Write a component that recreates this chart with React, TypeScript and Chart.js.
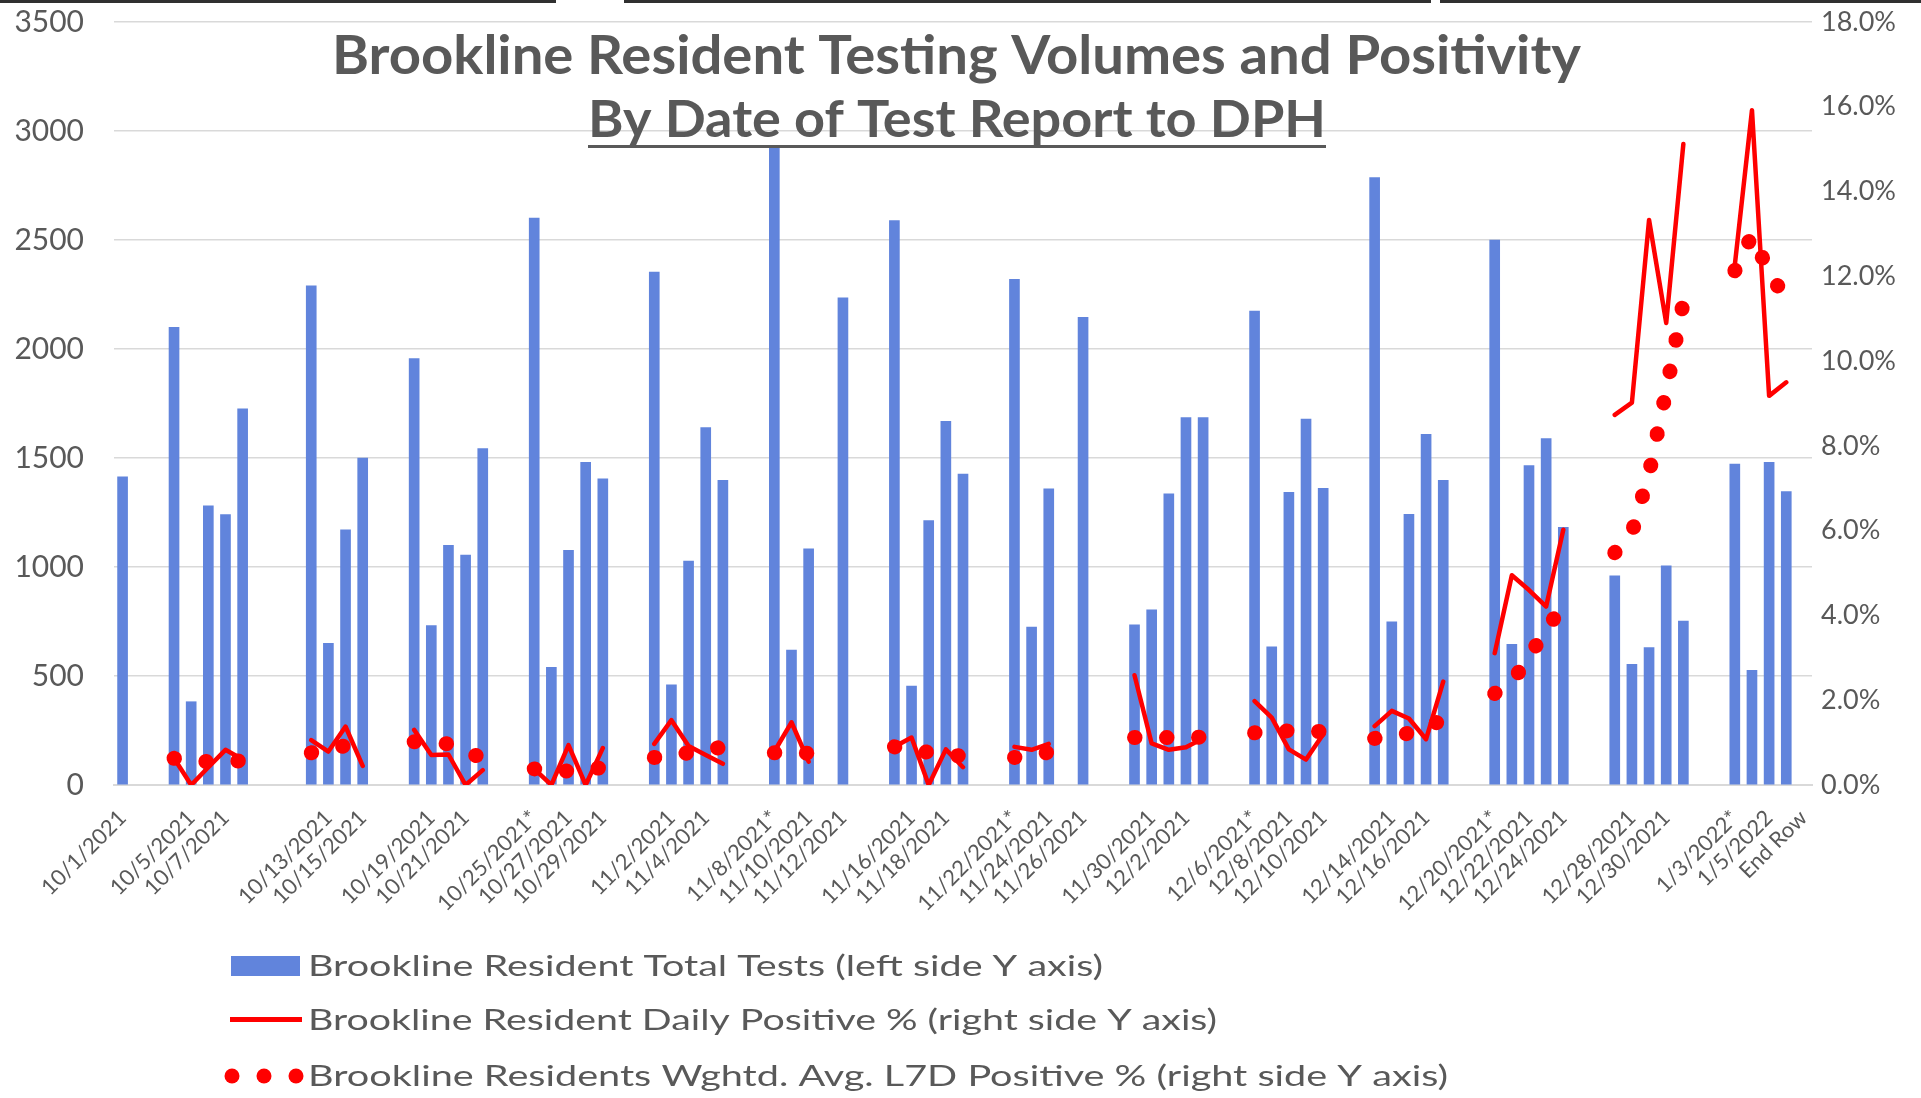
import React, { useEffect, useRef } from "react";
import { Chart, registerables } from "chart.js";

Chart.register(...registerables);

const n = null;

// One category per calendar day, 10/1/2021 .. 1/6/2022, then "End Row".
// Weekend / holiday days are blank categories.
const categories: string[] = [
  "10/1/2021", "", "", "10/4/2021*", "10/5/2021", "10/6/2021", "10/7/2021", "10/8/2021", "", "",
  "", "10/12/2021", "10/13/2021", "10/14/2021", "10/15/2021", "", "", "10/18/2021*", "10/19/2021", "10/20/2021",
  "10/21/2021", "10/22/2021", "", "", "10/25/2021*", "10/26/2021", "10/27/2021", "10/28/2021", "10/29/2021", "",
  "", "11/1/2021*", "11/2/2021", "11/3/2021", "11/4/2021", "11/5/2021", "", "", "11/8/2021*", "11/9/2021",
  "11/10/2021", "", "11/12/2021", "", "", "11/15/2021*", "11/16/2021", "11/17/2021", "11/18/2021", "11/19/2021",
  "", "", "11/22/2021*", "11/23/2021", "11/24/2021", "", "11/26/2021", "", "", "11/29/2021*",
  "11/30/2021", "12/1/2021", "12/2/2021", "12/3/2021", "", "", "12/6/2021*", "12/7/2021", "12/8/2021", "12/9/2021",
  "12/10/2021", "", "", "12/13/2021*", "12/14/2021", "12/15/2021", "12/16/2021", "12/17/2021", "", "",
  "12/20/2021*", "12/21/2021", "12/22/2021", "12/23/2021", "12/24/2021", "", "", "12/27/2021*", "12/28/2021", "12/29/2021",
  "12/30/2021", "12/31/2021", "", "", "1/3/2022*", "1/4/2022", "1/5/2022", "1/6/2022", "End Row",
];

const totalTests: (number | null)[] = [
  1414, n, n, 2099, 382, 1281, 1240, 1725, n, n,
  n, 2290, 650, 1171, 1500, n, n, 1956, 731, 1099,
  1055, 1543, n, n, 2601, 540, 1077, 1480, 1404, n,
  n, 2353, 459, 1027, 1640, 1398, n, n, 2927, 619,
  1083, n, 2235, n, n, 2589, 454, 1213, 1668, 1426,
  n, n, 2320, 724, 1359, n, 2145, n, n, 735,
  803, 1336, 1685, 1685, n, n, 2174, 634, 1343, 1679,
  1361, n, n, 2786, 749, 1242, 1609, 1398, n, n,
  2500, 645, 1465, 1589, 1182, n, n, 959, 554, 630,
  1005, 752, n, n, 1472, 526, 1480, 1346, n,
];

const dailyPositive: (number | null)[] = [
  n, n, n, 0.63, 0.0, 0.42, 0.83, 0.6, n, n,
  n, 1.06, 0.79, 1.38, 0.45, n, n, 1.3, 0.71, 0.72,
  0.0, 0.35, n, n, 0.38, 0.0, 0.94, 0.0, 0.87, n,
  n, 0.97, 1.53, 0.92, 0.71, 0.5, n, n, 0.79, 1.48,
  0.55, n, n, n, n, 0.9, 1.12, 0.0, 0.84, 0.42,
  n, n, 0.9, 0.83, 0.97, n, n, n, n, 2.59,
  0.98, 0.83, 0.89, 1.1, n, n, 1.98, 1.59, 0.84, 0.6,
  1.2, n, n, 1.39, 1.75, 1.57, 1.08, 2.44, n, n,
  3.11, 4.95, 4.6, 4.21, 6.02, n, n, 8.73, 9.02, 13.33,
  10.9, 15.12, n, n, 12.27, 15.92, 9.18, 9.5, n,
];

const weightedAvgL7D: (number | null)[] = [
  n, n, n, 0.63, 0.58, 0.55, 0.56, 0.57, n, n,
  n, 0.76, 0.83, 0.93, 0.95, n, n, 1.02, 1.0, 0.97,
  0.78, 0.64, n, n, 0.38, 0.35, 0.33, 0.37, 0.41, n,
  n, 0.65, 0.69, 0.76, 0.84, 0.89, n, n, 0.76, 0.76,
  0.75, n, n, n, n, 0.9, 0.83, 0.77, 0.72, 0.68,
  n, n, 0.65, 0.7, 0.77, n, n, n, n, 1.12,
  1.11, 1.12, 1.12, 1.13, n, n, 1.23, 1.25, 1.28, 1.27,
  1.26, n, n, 1.1, 1.16, 1.22, 1.35, 1.55, n, n,
  2.16, 2.42, 3.03, 3.66, 4.25, n, n, 5.48, 5.95, 7.35,
  9.3, 11.4, n, n, 12.13, 12.97, 12.1, 11.45, n,
];

const leftAxis = { min: 0, max: 3500, step: 500 };
const rightAxis = { min: 0, max: 18, step: 2 };

const seriesNames = [
  "Brookline Resident Total Tests (left side Y axis)",
  "Brookline Resident Daily Positive % (right side Y axis)",
  "Brookline Residents Wghtd. Avg. L7D Positive % (right side Y axis)",
];
const titleLines = [
  "Brookline Resident Testing Volumes and Positivity",
  "By Date of Test Report to DPH",
];

const BLUE = "#6184DC";
const RED = "#FF0000";
const TEXT = "#595959";
const GRID = "#d9d9d9";
const FONT = "Lato, 'Open Sans', sans-serif";

function drawFitted(
  ctx: CanvasRenderingContext2D,
  text: string,
  left: number,
  baseline: number,
  width: number,
  capH: number,
  weight: string
) {
  const size = capH / 0.7165;
  ctx.font = `${weight} ${size}px ${FONT}`;
  const w = ctx.measureText(text).width;
  const sx = width / w;
  ctx.save();
  ctx.translate(left, baseline);
  ctx.scale(sx, 1);
  ctx.textAlign = "left";
  ctx.textBaseline = "alphabetic";
  ctx.fillStyle = TEXT;
  ctx.fillText(text, 0, 0);
  ctx.restore();
}

const overlayPlugin = {
  id: "overlay",
  afterDraw(chart: any) {
    const ctx: CanvasRenderingContext2D = chart.ctx;
    ctx.save();
    // dark strip along the very top
    ctx.fillStyle = "#303030";
    ctx.fillRect(0, 0, 556, 3);
    ctx.fillRect(624, 0, 807, 3);
    ctx.fillRect(1440, 0, 481, 3);

    // title
    drawFitted(ctx, titleLines[0], 332, 74, 1249, 38, "bold");
    drawFitted(ctx, titleLines[1], 588, 137, 738, 37, "bold");
    ctx.fillStyle = TEXT;
    ctx.fillRect(588, 145, 738, 3);

    // legend
    ctx.fillStyle = BLUE;
    ctx.fillRect(231, 956, 69, 20);
    drawFitted(ctx, seriesNames[0], 308, 976, 795, 20.5, "normal");

    ctx.strokeStyle = RED;
    ctx.lineWidth = 5;
    ctx.lineCap = "butt";
    ctx.beginPath();
    ctx.moveTo(230, 1019.5);
    ctx.lineTo(302, 1019.5);
    ctx.stroke();
    drawFitted(ctx, seriesNames[1], 308, 1030, 909, 20.5, "normal");

    ctx.fillStyle = RED;
    [232, 264, 296].forEach((x) => {
      ctx.beginPath();
      ctx.arc(x, 1076, 7.5, 0, Math.PI * 2);
      ctx.fill();
    });
    drawFitted(ctx, seriesNames[2], 308, 1086, 1140, 20.5, "normal");
    ctx.restore();
  },
};

export default function App() {
  const ref = useRef<HTMLCanvasElement | null>(null);

  useEffect(() => {
    document.body.style.margin = "0";
    document.body.style.overflow = "hidden";
    const canvas = ref.current;
    if (!canvas) return;
    const chart = new Chart(canvas, {
      type: "bar",
      data: {
        labels: categories,
        datasets: [
          {
            type: "line",
            label: seriesNames[2],
            data: weightedAvgL7D,
            yAxisID: "y1",
            borderColor: RED,
            backgroundColor: RED,
            borderWidth: 15,
            borderDash: [0.5, 31.5],
            borderCapStyle: "round",
            pointRadius: 0,
            pointHoverRadius: 0,
            fill: false,
            spanGaps: false,
            tension: 0,
            order: 1,
          } as any,
          {
            type: "line",
            label: seriesNames[1],
            data: dailyPositive,
            yAxisID: "y1",
            borderColor: RED,
            backgroundColor: RED,
            borderWidth: 4.5,
            borderCapStyle: "round",
            borderJoinStyle: "round",
            pointRadius: 0,
            pointHoverRadius: 0,
            fill: false,
            spanGaps: false,
            tension: 0,
            order: 2,
          } as any,
          {
            type: "bar",
            label: seriesNames[0],
            data: totalTests,
            yAxisID: "y",
            backgroundColor: BLUE,
            barThickness: 10,
            order: 3,
          } as any,
        ],
      },
      options: {
        responsive: false,
        animation: false,
        events: [],
        layout: { padding: { top: 22, left: 0, right: 0, bottom: 0 } },
        plugins: {
          legend: { display: false },
          title: { display: false },
          tooltip: { enabled: false },
        },
        scales: {
          x: {
            type: "category",
            offset: true,
            grid: { display: false, drawTicks: false },
            border: { display: true, color: GRID, width: 2 },
            ticks: {
              autoSkip: false,
              minRotation: 45,
              maxRotation: 45,
              padding: 20,
              color: TEXT,
              font: { family: FONT, size: 22 },
              callback: (_v: any, i: number) => (i % 2 === 0 ? categories[i] : ""),
            },
            afterFit: (s: any) => {
              s.height = 313;
              s.paddingLeft = 0;
              s.paddingRight = 0;
            },
          },
          y: {
            type: "linear",
            position: "left",
            min: leftAxis.min,
            max: leftAxis.max,
            ticks: {
              stepSize: leftAxis.step,
              padding: 30,
              color: TEXT,
              font: { family: FONT, size: 30 },
              callback: (v: any) => String(v),
            },
            grid: { color: GRID, lineWidth: 1.5, drawTicks: false },
            border: { display: false },
            afterFit: (s: any) => {
              s.width = 114;
              s.paddingTop = 0;
              s.paddingBottom = 0;
            },
          },
          y1: {
            type: "linear",
            position: "right",
            min: rightAxis.min,
            max: rightAxis.max,
            ticks: {
              stepSize: rightAxis.step,
              padding: 9,
              color: TEXT,
              font: { family: FONT, size: 27 },
              callback: (v: any) => Number(v).toFixed(1) + "%",
            },
            grid: { display: false, drawTicks: false },
            border: { display: false },
            afterFit: (s: any) => {
              s.width = 109;
              s.paddingTop = 0;
              s.paddingBottom = 0;
            },
          },
        },
      } as any,
      plugins: [overlayPlugin],
    });
    return () => chart.destroy();
  }, []);

  return (
    <canvas
      ref={ref}
      width={1921}
      height={1098}
      style={{ display: "block", width: "1921px", height: "1098px" }}
    />
  );
}
